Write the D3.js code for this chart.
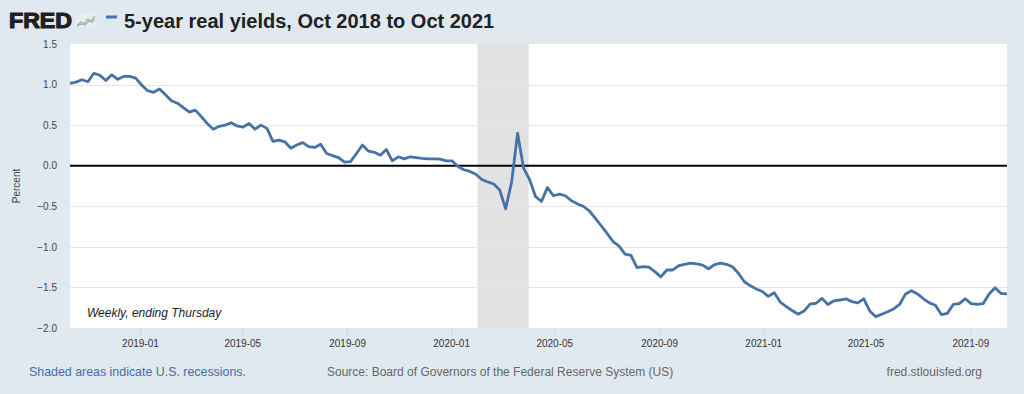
<!DOCTYPE html>
<html>
<head>
<meta charset="utf-8">
<script src="https://cdnjs.cloudflare.com/ajax/libs/d3/7.8.5/d3.min.js"></script>
<style>
  html, body { margin: 0; padding: 0; background: #e1e9f0; }
  svg { display: block; font-family: Arial, "Liberation Sans", sans-serif; }
</style>
</head>
<body>
<div id="chart"></div>
<script>

//////////// *** DATA *** ////////////

var firstWeek = "2018-10-11";   // weekly, ending Thursday

var yields = [
  1.015, 1.03, 1.06, 1.035, 1.14, 1.115, 1.05, 1.12, 1.065, 1.10,
  1.10, 1.08, 0.995, 0.925, 0.905, 0.945, 0.875, 0.80, 0.77, 0.715,
  0.66, 0.685, 0.605, 0.52, 0.45, 0.485, 0.50, 0.53, 0.49, 0.475,
  0.52, 0.45, 0.50, 0.46, 0.30, 0.315, 0.295, 0.215, 0.255, 0.285,
  0.235, 0.225, 0.265, 0.15, 0.125, 0.10, 0.045, 0.05, 0.15, 0.255,
  0.18, 0.165, 0.13, 0.20, 0.06, 0.11, 0.085, 0.11, 0.10, 0.09,
  0.085, 0.085, 0.08, 0.06, 0.06, -0.01, -0.05, -0.07, -0.105, -0.17,
  -0.20, -0.225, -0.30, -0.53, -0.20, 0.40, -0.03, -0.17, -0.38, -0.44,
  -0.27, -0.37, -0.35, -0.37, -0.43, -0.47, -0.50, -0.555, -0.645, -0.74,
  -0.835, -0.935, -0.99, -1.09, -1.105, -1.255, -1.245, -1.25, -1.305, -1.37,
  -1.285, -1.285, -1.23, -1.215, -1.20, -1.21, -1.225, -1.27, -1.22, -1.20,
  -1.215, -1.245, -1.325, -1.43, -1.48, -1.52, -1.55, -1.61, -1.565, -1.68,
  -1.735, -1.785, -1.83, -1.79, -1.705, -1.695, -1.635, -1.71, -1.665, -1.655,
  -1.64, -1.675, -1.69, -1.64, -1.79, -1.86, -1.83, -1.80, -1.765, -1.71,
  -1.58, -1.54, -1.58, -1.64, -1.69, -1.72, -1.835, -1.82, -1.71, -1.70,
  -1.64, -1.70, -1.71, -1.70, -1.58, -1.505, -1.575, -1.58
];

var recessions = [["2020-02-01", "2020-04-01"]];

var yTicks = [1.5, 1.0, 0.5, 0.0, -0.5, -1.0, -1.5, -2.0];
var xTicks = ["2019-01", "2019-05", "2019-09", "2020-01", "2020-05",
              "2020-09", "2021-01", "2021-05", "2021-09"];

var title = "5-year real yields, Oct 2018 to Oct 2021";
var frequencyNote = "Weekly, ending Thursday";
var footLeft = "Shaded areas indicate U.S. recessions.";
var footMid = "Source: Board of Governors of the Federal Reserve System (US)";
var footRight = "fred.stlouisfed.org";

//////////// *** VARIABLES *** ////////////

var W = 1024, H = 394;
var margin = {top: 44, right: 17, bottom: 66, left: 70},
    width = W - margin.left - margin.right,
    height = H - margin.top - margin.bottom;

var parseDay = d3.timeParse("%Y-%m-%d"),
    parseMonth = d3.timeParse("%Y-%m"),
    fmtMonth = d3.timeFormat("%Y-%m");

var start = parseDay(firstWeek);
var data = yields.map(function(v, i) {
  return {date: d3.timeWeek.offset(start, i), value: v};
});

var x = d3.scaleTime()
  .domain([data[0].date, data[data.length - 1].date])
  .range([0, width]);

var y = d3.scaleLinear()
  .domain([-2, 1.5])
  .range([height, 0]);

var svg = d3.select("#chart").append("svg")
  .attr("width", W)
  .attr("height", H);

svg.append("rect")
  .attr("width", W).attr("height", H)
  .attr("fill", "#e1e9f0");

//////////// *** HEADER *** ////////////

var head = svg.append("g");

head.append("text")
  .attr("x", 9).attr("y", 28)
  .attr("font-size", 22)
  .attr("font-weight", 900)
  .attr("textLength", 63)
  .attr("lengthAdjust", "spacingAndGlyphs")
  .attr("fill", "#1f1f1f")
  .attr("stroke", "#1f1f1f")
  .attr("stroke-width", 1.2)
  .text("FRED");

// little graph icon next to the logo
var icon = head.append("g").attr("transform", "translate(76,14)");
icon.append("rect")
  .attr("width", 20).attr("height", 13)
  .attr("fill", "#e8edf1");
icon.append("polyline")
  .attr("points", "1,12 5,8 8,10 12,5 15,7 19,2")
  .attr("fill", "none").attr("stroke", "#9bbf8a").attr("stroke-width", 1.3);
icon.append("polyline")
  .attr("points", "1,12 5,10 9,11 13,7 16,8 19,5")
  .attr("fill", "none").attr("stroke", "#8fa9c8").attr("stroke-width", 1.1);

head.append("line")
  .attr("x1", 106).attr("x2", 117)
  .attr("y1", 17).attr("y2", 17)
  .attr("stroke", "#4572a7")
  .attr("stroke-width", 3);

head.append("text")
  .attr("x", 124).attr("y", 28)
  .attr("font-size", 20)
  .attr("font-weight", "bold")
  .attr("fill", "#222")
  .text(title);

//////////// *** PLOT *** ////////////

var g = svg.append("g")
  .attr("transform", "translate(" + margin.left + "," + margin.top + ")");

g.append("rect")
  .attr("width", width).attr("height", height)
  .attr("fill", "#fff");

g.selectAll(".recession")
  .data(recessions)
  .enter().append("rect")
  .attr("class", "recession")
  .attr("x", function(d) { return x(parseDay(d[0])); })
  .attr("width", function(d) { return x(parseDay(d[1])) - x(parseDay(d[0])); })
  .attr("y", 0)
  .attr("height", height)
  .attr("fill", "#e2e2e2");

g.selectAll(".grid")
  .data(yTicks.filter(function(t) { return t !== 0 && t !== 1.5 && t !== -2; }))
  .enter().append("line")
  .attr("class", "grid")
  .attr("x1", 0).attr("x2", width)
  .attr("y1", function(d) { return Math.round(y(d)) + 0.5; })
  .attr("y2", function(d) { return Math.round(y(d)) + 0.5; })
  .attr("stroke", "#e6e6e6");

g.append("line")
  .attr("x1", 0).attr("x2", width)
  .attr("y1", y(0)).attr("y2", y(0))
  .attr("stroke", "#000")
  .attr("stroke-width", 2);

// y axis
var yAxis = g.append("g")
  .call(d3.axisLeft(y).tickValues(yTicks).tickFormat(d3.format(".1f")).tickSize(0).tickPadding(13));
yAxis.select(".domain").remove();
yAxis.selectAll("text")
  .attr("font-size", 10)
  .attr("font-family", "Arial, 'Liberation Sans', sans-serif")
  .attr("fill", "#444");

// x axis
var xAxis = g.append("g")
  .attr("transform", "translate(0," + height + ")")
  .call(d3.axisBottom(x)
    .tickValues(xTicks.map(function(t) { return parseMonth(t); }))
    .tickFormat(fmtMonth)
    .tickSize(7)
    .tickPadding(5));
xAxis.select(".domain").remove();
xAxis.selectAll("line").attr("stroke", "#d0d6dc");
xAxis.selectAll("text")
  .attr("font-size", 10)
  .attr("font-family", "Arial, 'Liberation Sans', sans-serif")
  .attr("fill", "#333");

var line = d3.line()
  .x(function(d) { return x(d.date); })
  .y(function(d) { return y(d.value); });

g.append("path")
  .datum(data)
  .attr("d", line)
  .attr("fill", "none")
  .attr("stroke", "#4572a7")
  .attr("stroke-width", 2.8)
  .attr("stroke-linejoin", "round");

g.append("text")
  .attr("x", 17).attr("y", height - 11)
  .attr("font-size", 12)
  .attr("font-style", "italic")
  .attr("fill", "#222")
  .text(frequencyNote);

svg.append("text")
  .attr("transform", "translate(20," + (margin.top + height / 2) + ") rotate(-90)")
  .attr("text-anchor", "middle")
  .attr("font-size", 10)
  .attr("fill", "#444")
  .text("Percent");

//////////// *** FOOTER *** ////////////

svg.append("text")
  .attr("x", 29).attr("y", 376)
  .attr("font-size", 12.4)
  .attr("fill", "#3f6fa6")
  .text(footLeft);

svg.append("text")
  .attr("x", 327).attr("y", 376)
  .attr("font-size", 12)
  .attr("fill", "#666")
  .text(footMid);

svg.append("text")
  .attr("x", 982).attr("y", 376)
  .attr("text-anchor", "end")
  .attr("font-size", 12)
  .attr("fill", "#666")
  .text(footRight);

</script>
</body>
</html>
